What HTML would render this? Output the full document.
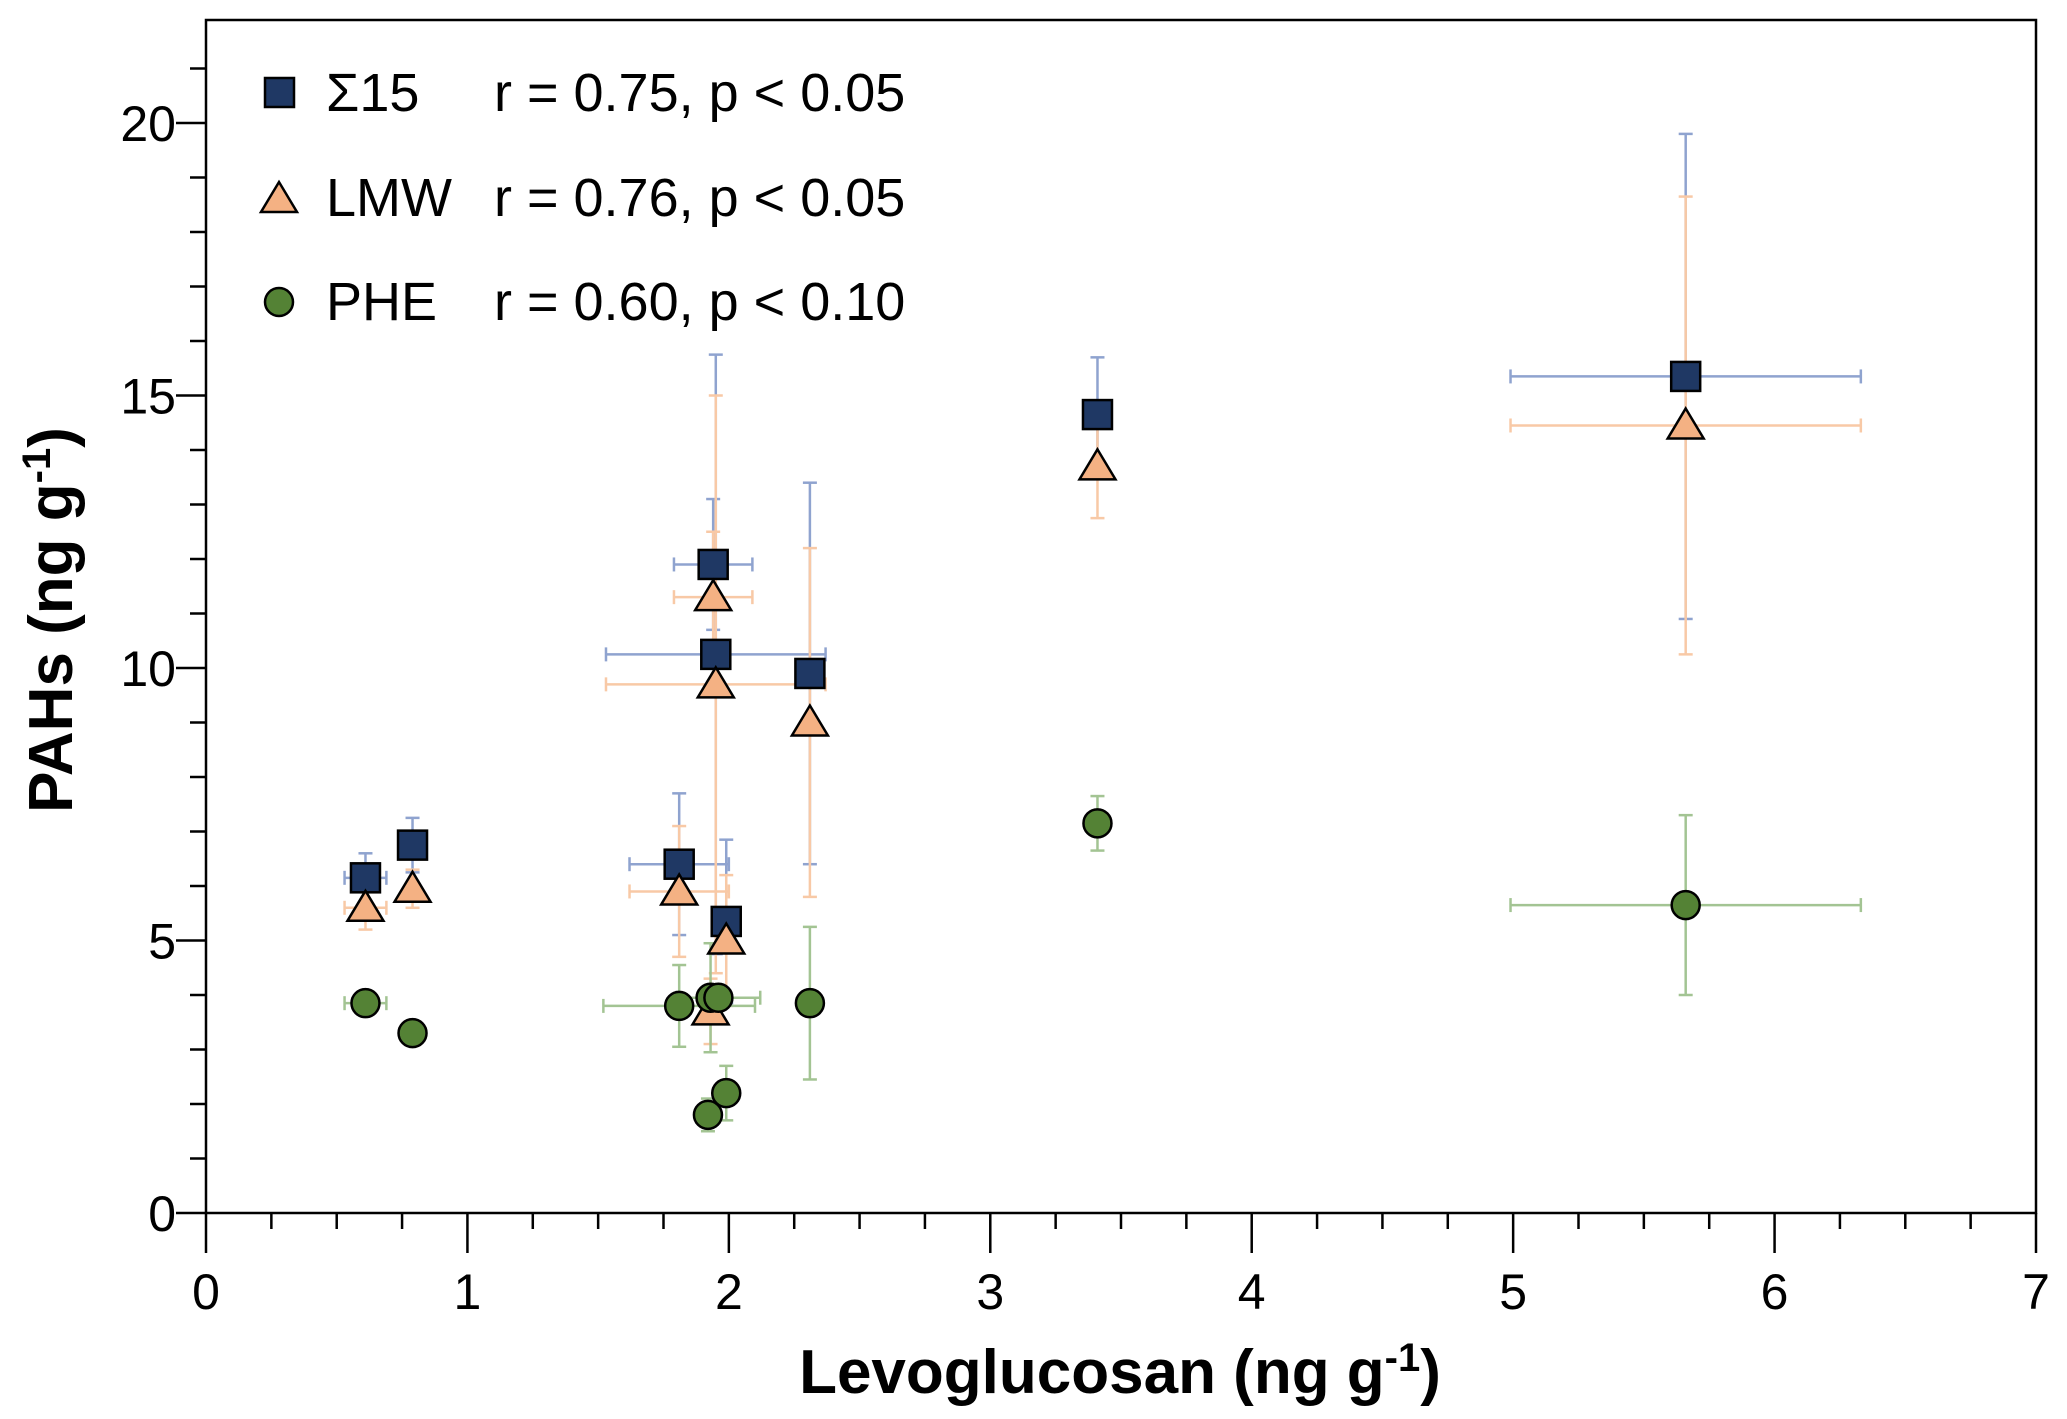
<!DOCTYPE html>
<html><head><meta charset="utf-8"><style>
html,body{margin:0;padding:0;background:#fff;}
svg{display:block;font-family:"Liberation Sans",Arial,sans-serif;}
</style></head><body>
<svg id="chart" width="2067" height="1419" viewBox="0 0 2067 1419" xmlns="http://www.w3.org/2000/svg">
<g id="grid"></g><g id="errs"></g><g id="marks"></g>
<text x="1120" y="1393" text-anchor="middle" font-size="62" font-weight="bold">Levoglucosan (ng g<tspan dy="-22" font-size="40">-1</tspan><tspan dy="22">)</tspan></text>
<text transform="translate(72,620) rotate(-90)" text-anchor="middle" font-size="62" font-weight="bold">PAHs (ng g<tspan dy="-22" font-size="40">-1</tspan><tspan dy="22">)</tspan></text>
<g font-size="54">
<rect x="265" y="78" width="29" height="29" fill="#1f3864" stroke="#000" stroke-width="2.5"/>
<text x="326" y="111">Σ15</text>
<text x="494" y="111">r = 0.75, p &lt; 0.05</text>
<polygon points="279,182 297,212 261,212" fill="#f4b183" stroke="#000" stroke-width="2.5"/>
<text x="326" y="216">LMW</text>
<text x="494" y="216">r = 0.76, p &lt; 0.05</text>
<circle cx="279" cy="302" r="14" fill="#548235" stroke="#000" stroke-width="2.5"/>
<text x="326" y="320">PHE</text>
<text x="494" y="320">r = 0.60, p &lt; 0.10</text>
</g>
</svg>
<script>
const xTicks=[0,1,2,3,4,5,6,7];
const yTicks=[0,5,10,15,20];
// Σ15
const sumX=[0.61,0.79,1.81,1.94,1.95,1.99,2.31,3.41,5.66];
const sumY=[6.15,6.75,6.4,11.9,10.25,5.35,9.9,14.65,15.35];
const sumXerr=[0.08,0,0.19,0.15,0.42,0,0,0,0.67];
const sumYerr=[0.45,0.5,1.3,1.2,5.5,1.5,3.5,1.05,4.45];
// LMW
const lmwX=[0.61,0.79,1.81,1.94,1.95,1.99,1.93,2.31,3.41,5.66];
const lmwY=[5.6,5.95,5.9,11.3,9.7,5.0,3.7,9.0,13.7,14.45];
const lmwXerr=[0.08,0,0.19,0.15,0.42,0,0,0,0,0.67];
const lmwYerr=[0.4,0.35,1.2,1.2,5.3,1.2,0.6,3.2,0.95,4.2];
// PHE
const pheX=[0.61,0.79,1.81,1.93,1.96,1.92,1.99,2.31,3.41,5.66];
const pheY=[3.85,3.3,3.8,3.95,3.95,1.8,2.2,3.85,7.15,5.65];
const pheXerr=[0.08,0,0.29,0,0.16,0,0,0,0,0.67];
const pheYerr=[0,0,0.75,1.0,0,0.3,0.5,1.4,0.5,1.65];

const X0=206,X1=2036,Y0=1213,YPU=54.5,YMAX=(1213-20)/54.5;
const sx=v=>X0+(X1-X0)*v/7, sy=v=>Y0-YPU*v;
const NS="http://www.w3.org/2000/svg";
function mk(tag,attrs,parent){const e=document.createElementNS(NS,tag);for(const k in attrs)e.setAttribute(k,attrs[k]);parent.appendChild(e);return e;}
const grid=document.getElementById('grid'),errs=document.getElementById('errs'),marks=document.getElementById('marks');
let f=mk('rect',{x:X0,y:sy(YMAX),width:X1-X0,height:Y0-sy(YMAX),fill:'none',stroke:'#000','stroke-width':2.5},grid);


for(let i=0;i<=28;i++){const v=i/4,x=sx(v);const maj=i%4===0;
 const t=mk('line',{x1:x,x2:x,y1:Y0,y2:Y0+(maj?40:16),stroke:'#000','stroke-width':2.5},grid);
 
 }
xTicks.forEach(v=>{const t=mk('text',{x:sx(v),y:Y0+96,'text-anchor':'middle','font-size':50},grid);t.textContent=v;
 
 });
for(let v=0;v<=21;v++){const y=sy(v),maj=v%5===0;
 const t=mk('line',{x1:X0-(maj?30:16),x2:X0,y1:y,y2:y,stroke:'#000','stroke-width':2.5},grid);
 
 }
yTicks.forEach(v=>{const t=mk('text',{x:X0-30,y:sy(v)+18,'text-anchor':'end','font-size':50},grid);t.textContent=v;
 
 });
function eb(xs,ys,xe,ye,col,name){
 for(let i=0;i<xs.length;i++){const cx=sx(xs[i]),cy=sy(ys[i]);const g=mk('g',{stroke:col,'stroke-width':2.5,fill:'none'},errs);
  
  
  if(xe[i]>0){const a=sx(xs[i]-xe[i]),b=sx(xs[i]+xe[i]);mk('line',{x1:a,x2:b,y1:cy,y2:cy},g);mk('line',{x1:a,x2:a,y1:cy-7,y2:cy+7},g);mk('line',{x1:b,x2:b,y1:cy-7,y2:cy+7},g);}
  if(ye[i]>0){const a=sy(ys[i]-ye[i]),b=sy(ys[i]+ye[i]);mk('line',{x1:cx,x2:cx,y1:a,y2:b},g);mk('line',{x1:cx-7,x2:cx+7,y1:a,y2:a},g);mk('line',{x1:cx-7,x2:cx+7,y1:b,y2:b},g);}
 }}
eb(sumX,sumY,sumXerr,sumYerr,'#8fa3cf','sum15');
eb(lmwX,lmwY,lmwXerr,lmwYerr,'#f8c9a6','lmw');
eb(pheX,pheY,pheXerr,pheYerr,'#a3c493','phe');
sumX.forEach((v,i)=>{const e=mk('rect',{x:sx(v)-14.5,y:sy(sumY[i])-14.5,width:29,height:29,fill:'#1f3864',stroke:'#000','stroke-width':2.5},marks);
 
 });
lmwX.forEach((v,i)=>{const x=sx(v),y=sy(lmwY[i]);const e=mk('polygon',{points:`${x},${y-17} ${x+18},${y+13} ${x-18},${y+13}`,fill:'#f4b183',stroke:'#000','stroke-width':2.5},marks);
 
 });
pheX.forEach((v,i)=>{const e=mk('circle',{cx:sx(v),cy:sy(pheY[i]),r:14,fill:'#548235',stroke:'#000','stroke-width':2.5},marks);
 
 });
</script>
</body></html>
